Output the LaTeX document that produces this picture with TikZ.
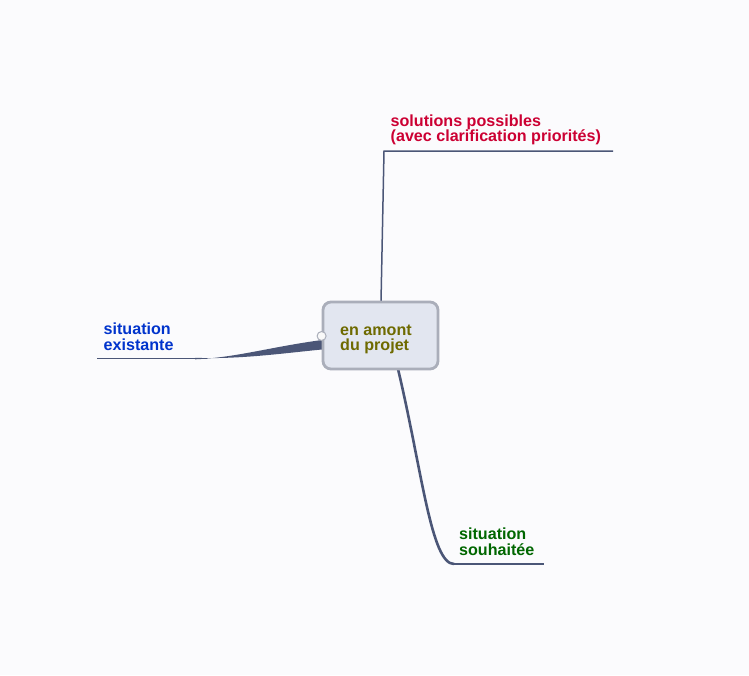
\documentclass[tikz,border=0pt]{standalone}
\usepackage{fontspec}
\setmainfont{Liberation Sans}
\definecolor{bg}{HTML}{FBFBFD}
\definecolor{boxfill}{HTML}{E2E6F0}
\definecolor{boxline}{HTML}{AAAEBA}
\definecolor{branch}{HTML}{4B5677}
\definecolor{txtolive}{HTML}{6E6A00}
\definecolor{txtred}{HTML}{CC0033}
\definecolor{txtblue}{HTML}{0033CC}
\definecolor{txtgreen}{HTML}{006600}
\tikzset{
  lbl/.style={inner sep=0pt, anchor=base west, align=left, font=\fontsize{16.1}{15.3}\selectfont\bfseries},
  thin branch/.style={draw=branch, line width=1.5pt},
  centerbox/.style={draw=boxline, fill=boxfill, line width=2.8pt, rounded corners=8pt, minimum width=115pt, minimum height=67pt, inner sep=0pt}
}
\begin{document}
\begin{tikzpicture}[x=1pt,y=-1pt]
\fill[bg] (0,0) rectangle (749,675);
\useasboundingbox (0,0) rectangle (749,675);
% coordinates
\coordinate (topjoin) at (381,302);
\coordinate (topbend) at (384,151);
\coordinate (topend) at (613,151);
\coordinate (leftA) at (322,340);
\coordinate (leftB) at (322,349.5);
\coordinate (leftmid) at (195,358.6);
\coordinate (leftend) at (97,358.6);
\coordinate (botjoin) at (398,369);
\coordinate (botbend) at (452,564);
\coordinate (botend) at (544,564);
% branches
\draw[thin branch] (leftend) -- ([xshift=12pt]leftmid);
\fill[branch] (leftA) .. controls (270,347) and (235,357.8) .. ([yshift=-0.7pt]leftmid)
  -- ([yshift=0.8pt]leftmid) .. controls (240,359.5) and (285,353) .. (leftB) -- cycle;
\draw[thin branch] (topjoin) -- (topbend) -- (topend);
\draw[branch, line width=2.6pt] (botjoin) .. controls (422,470) and (431,564) .. ([xshift=2pt]botbend);
\draw[thin branch] (botbend) -- (botend);
% center
\node[centerbox] (c) at (380.5,335.5) {};
\node[lbl, text=txtolive] (ctext) at (340,350.7) {en amont\\du projet};
\node[circle, draw=boxline, fill=white!95!gray, line width=1pt, minimum size=9pt, inner sep=0pt] (knob) at (c.west |- 0,336) {};
% labels
\node[lbl, text=txtred] (sol) at (390.5,141.7) {solutions possibles\\(avec clarification priorités)};
\node[lbl, text=txtblue] (exist) at (103.5,350) {situation\\existante};
\node[lbl, text=txtgreen] (souh) at (459,555) {situation\\souhaitée};
\end{tikzpicture}
\end{document}
